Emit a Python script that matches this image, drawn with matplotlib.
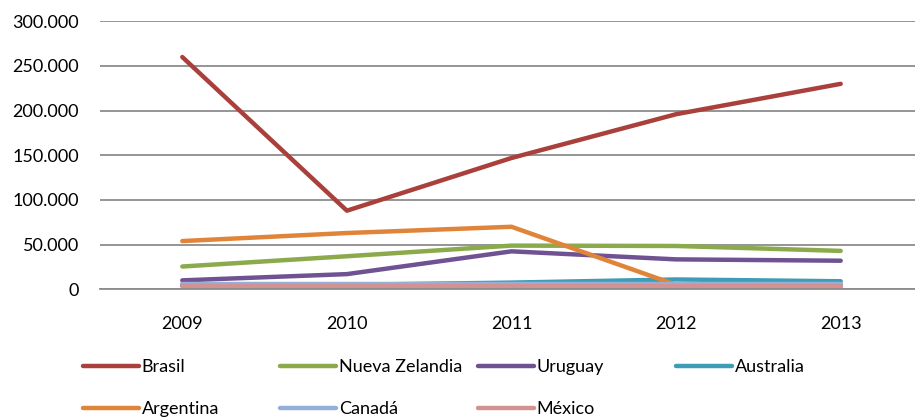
import matplotlib
matplotlib.use("Agg")
import matplotlib.pyplot as plt
import numpy as np
from matplotlib.ticker import FuncFormatter

plt.rcParams['font.family'] = ['Lato', 'DejaVu Sans']

years = ["2009", "2010", "2011", "2012", "2013"]
brasil = [260000, 88000, 147000, 196000, 230000]
nueva_zelandia = [25500, 37000, 48900, 48500, 43000]
uruguay = [10000, 17000, 42500, 33500, 32000]
australia = [4000, 5000, 7500, 11000, 9000]
argentina = [54000, 63000, 70000, 5000, 3000]
canada = [5500, 5500, 5500, 5500, 5500]
mexico = [3800, 3800, 3800, 3800, 3800]

series_names = ["Brasil", "Nueva Zelandia", "Uruguay", "Australia",
                "Argentina", "Canadá", "México"]
series_values = [brasil, nueva_zelandia, uruguay, australia,
                 argentina, canada, mexico]
colors = ["#A9403C", "#8BAA4B", "#6F5291", "#3E9CB6",
          "#E0843A", "#94AFD8", "#D39292"]

yticks = [0, 50000, 100000, 150000, 200000, 250000, 300000]

fig = plt.figure(figsize=(9.15, 4.19), dpi=100)
ax = fig.add_axes([100/915, 129.7/419, 823/915, 268/419])

x = np.arange(len(years))
handles = []
for name, vals, c in zip(series_names, series_values, colors):
    h, = ax.plot(x, vals, color=c, lw=3.2, solid_capstyle='round',
                 solid_joinstyle='round', label=name, clip_on=False)
    handles.append(h)

ax.set_xlim(-0.5, 4.5)
ax.set_ylim(0, 300000)
ax.set_yticks(yticks)
ax.yaxis.set_major_formatter(FuncFormatter(
    lambda v, p: "0" if v == 0 else f"{int(v):,}".replace(",", ".")))
ax.set_xticks(x)
ax.set_xticklabels(years)
ax.grid(axis='y', color='#8C8C8C', lw=1.3)
ax.set_axisbelow(True)
for s in ['top', 'right', 'left']:
    ax.spines[s].set_visible(False)
ax.spines['bottom'].set_color('#8C8C8C')
ax.spines['bottom'].set_linewidth(1.3)
ax.tick_params(axis='both', length=0, labelsize=13, colors='black')
ax.tick_params(axis='x', pad=19)
ax.tick_params(axis='y', pad=15)

# Legend: columns at fixed positions (row-major order)
col_x = [83, 280, 478, 676]
cols = [[0, 4], [1, 5], [2, 6], [3]]
for cx, idxs in zip(col_x, cols):
    fig.legend([handles[i] for i in idxs], [series_names[i] for i in idxs],
               loc='upper left', bbox_to_anchor=(cx/915, (419-359)/419),
               frameon=False, fontsize=13, handlelength=3.1,
               handletextpad=0.15, borderpad=0, borderaxespad=0,
               labelspacing=1.45)

fig.savefig("out.png", dpi=100)
